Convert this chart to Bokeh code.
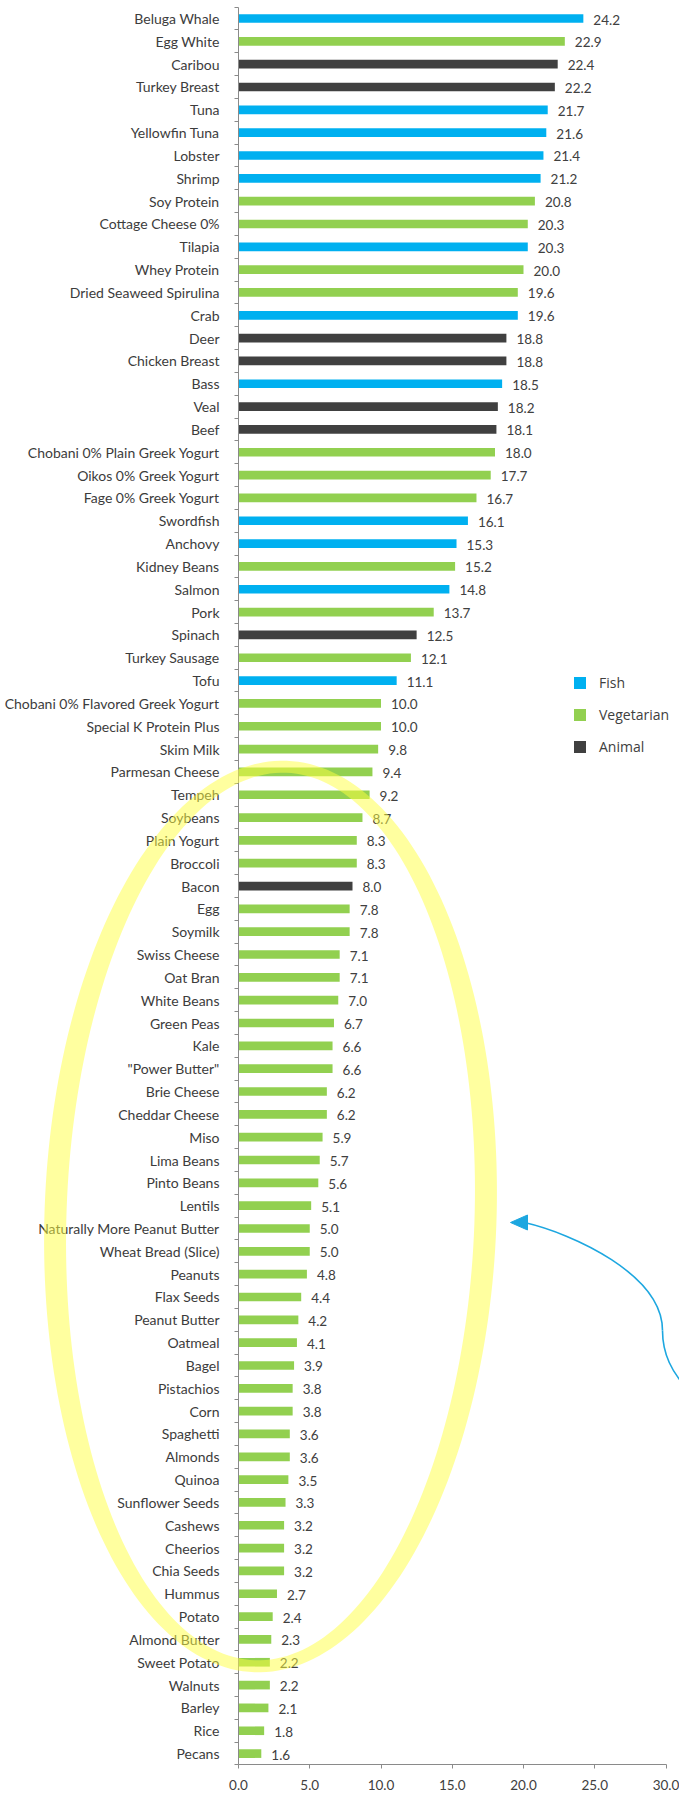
import numpy as np
from bokeh.plotting import figure
from bokeh.models import (Range1d, LinearAxis, FixedTicker, NumeralTickFormatter,
                          ColumnDataSource, Legend, LegendItem)
from bokeh.core.properties import value
from bokeh.embed import file_html
from bokeh.resources import INLINE

foods = ["Beluga Whale", "Egg White", "Caribou", "Turkey Breast", "Tuna", "Yellowfin Tuna",
         "Lobster", "Shrimp", "Soy Protein", "Cottage Cheese 0%", "Tilapia", "Whey Protein",
         "Dried Seaweed Spirulina", "Crab", "Deer", "Chicken Breast", "Bass", "Veal", "Beef",
         "Chobani 0% Plain Greek Yogurt", "Oikos 0% Greek Yogurt", "Fage 0% Greek Yogurt",
         "Swordfish", "Anchovy", "Kidney Beans", "Salmon", "Pork", "Spinach", "Turkey Sausage",
         "Tofu", "Chobani 0% Flavored Greek Yogurt", "Special K Protein Plus", "Skim Milk",
         "Parmesan Cheese", "Tempeh", "Soybeans", "Plain Yogurt", "Broccoli", "Bacon", "Egg",
         "Soymilk", "Swiss Cheese", "Oat Bran", "White Beans", "Green Peas", "Kale",
         "\"Power Butter\"", "Brie Cheese", "Cheddar Cheese", "Miso", "Lima Beans",
         "Pinto Beans", "Lentils", "Naturally More Peanut Butter", "Wheat Bread (Slice)",
         "Peanuts", "Flax Seeds", "Peanut Butter", "Oatmeal", "Bagel", "Pistachios", "Corn",
         "Spaghetti", "Almonds", "Quinoa", "Sunflower Seeds", "Cashews", "Cheerios",
         "Chia Seeds", "Hummus", "Potato", "Almond Butter", "Sweet Potato", "Walnuts",
         "Barley", "Rice", "Pecans"]

protein = [24.2, 22.9, 22.4, 22.2, 21.7, 21.6, 21.4, 21.2, 20.8, 20.3, 20.3, 20.0, 19.6, 19.6,
           18.8, 18.8, 18.5, 18.2, 18.1, 18.0, 17.7, 16.7, 16.1, 15.3, 15.2, 14.8, 13.7, 12.5,
           12.1, 11.1, 10.0, 10.0, 9.8, 9.4, 9.2, 8.7, 8.3, 8.3, 8.0, 7.8, 7.8, 7.1, 7.1, 7.0,
           6.7, 6.6, 6.6, 6.2, 6.2, 5.9, 5.7, 5.6, 5.1, 5.0, 5.0, 4.8, 4.4, 4.2, 4.1, 3.9, 3.8,
           3.8, 3.6, 3.6, 3.5, 3.3, 3.2, 3.2, 3.2, 2.7, 2.4, 2.3, 2.2, 2.2, 2.1, 1.8, 1.6]

F, V, A = "Fish", "Vegetarian", "Animal"
group = [F, V, A, A, F, F, F, F, V, V, F, V, V, F, A, A, F, A, A, V, V, V, F, F, V, F, V, A,
         V, F, V, V, V, V, V, V, V, V, A, V, V, V, V, V, V, V, V, V, V, V, V, V, V, V, V, V,
         V, V, V, V, V, V, V, V, V, V, V, V, V, V, V, V, V, V, V, V, V]

legend_groups = ["Fish", "Vegetarian", "Animal"]
group_colors = ["#00B0F0", "#92D050", "#404040"]

x_ticks = [0, 5, 10, 15, 20, 25, 30]

# ---- layout constants (pixels) ----
W, H = 679, 1794
X0, PXU = 238.0, 14.25      # pixel of x=0, pixels per unit
Y0, PYU = 18.0, 22.83       # pixel of first row centre, pixels per row

n = len(foods)
idx = list(range(n))
cmap = dict(zip(legend_groups, group_colors))
src = ColumnDataSource(dict(
    y=idx, v=protein, name=foods, grp=group,
    color=[cmap[g] for g in group],
    lab=["%.1f" % x for x in protein],
))

p = figure(width=W, height=H, output_backend="svg", toolbar_location=None,
           x_range=Range1d(-X0 / PXU, (W - X0) / PXU),
           y_range=Range1d((H - Y0) / PYU, -Y0 / PYU),
           x_axis_location=None, y_axis_location=None,
           min_border=0, outline_line_color=None)
p.xgrid.visible = False
p.ygrid.visible = False
p.background_fill_color = "white"

bars = p.hbar(y="y", left=0, right="v", height=0.38, fill_color="color",
              line_color=None, source=src)

p.text(x="v", y="y", text="lab", source=src, x_offset=10, y_offset=1,
       text_align="left", text_baseline="middle", text_font=value("Lato"),
       text_font_size="13.5px", text_color="#404040")

LABEL_FONT = "Lato"
# y axis (categories) at x = 0
yax = LinearAxis(fixed_location=0, bounds=(-0.5, n - 0.5),
                 ticker=FixedTicker(ticks=idx, minor_ticks=[i - 0.5 for i in range(n + 1)]),
                 major_label_overrides={i: foods[i] for i in idx})
yax.axis_line_color = "#8a8a8a"
yax.major_tick_out = 0
yax.major_tick_in = 0
yax.minor_tick_out = 4
yax.minor_tick_in = 0
yax.minor_tick_line_color = "#8a8a8a"
yax.major_label_standoff = 15
yax.major_label_text_font = LABEL_FONT
yax.major_label_text_font_size = "14px"
yax.major_label_text_color = "#3c3c3c"
p.add_layout(yax, "left")

xax = LinearAxis(fixed_location=n - 0.5, bounds=(0, 30),
                 ticker=FixedTicker(ticks=x_ticks, minor_ticks=[]),
                 formatter=NumeralTickFormatter(format="0.0"))
xax.axis_line_color = "#8a8a8a"
xax.major_tick_line_color = "#8a8a8a"
xax.major_tick_out = 4
xax.major_tick_in = 0
xax.minor_tick_out = 0
xax.minor_tick_in = 0
xax.major_label_standoff = 11
xax.major_label_text_font = LABEL_FONT
xax.major_label_text_font_size = "13.5px"
xax.major_label_text_color = "#404040"
p.add_layout(xax, "below")

# legend
items = [LegendItem(label=g, renderers=[bars], index=group.index(g)) for g in legend_groups]
leg = Legend(items=items, location=(572, H - 684.5 - 71), orientation="vertical",
             glyph_width=15, glyph_height=15, label_height=15, spacing=13,
             label_standoff=12, padding=0, margin=0, border_line_color=None,
             background_fill_alpha=0, label_text_font="Open Sans",
             label_text_font_size="14px", label_text_color="#404040")
p.add_layout(leg, "center")


def dx(sx):
    return (sx - X0) / PXU


def dy(sy):
    return (sy - Y0) / PYU


# blue curved arrow (annotation)
ac = "#1DA7E0"
p.bezier(x0=[dx(524), dx(662)], y0=[dy(1222), dy(1330)],
         x1=[dx(662), dx(692)], y1=[dy(1330), dy(1394)],
         cx0=[dx(572), dx(662)], cy0=[dy(1233), dy(1352)],
         cx1=[dx(662), dx(670)], cy1=[dy(1274), dy(1372)],
         line_color=ac, line_width=1.6)
p.patch(x=[dx(510), dx(527), dx(527)], y=[dy(1222), dy(1214.5), dy(1229.5)],
        fill_color=ac, line_color=ac)

# yellow highlight ellipse (annotation), drawn as ring
cx, cy, Aax, Bax, phi = 270.0, 1216.0, 450.0, 215.0, 0.035
t = np.linspace(0, 2 * np.pi, 241)


def ring(a, b):
    u, v = b * np.cos(t), a * np.sin(t)
    sx = cx + u * np.cos(phi) - v * np.sin(phi)
    sy = cy + u * np.sin(phi) + v * np.cos(phi)
    return list(dx(sx)), list(dy(sy))


ox, oy = ring(Aax + 6, Bax + 11)
ix, iy = ring(Aax - 6, Bax - 11)
el = p.multi_polygons(xs=[[[ox, ix[::-1]]]], ys=[[[oy, iy[::-1]]]],
                      fill_color="#FFFF40", fill_alpha=0.5, line_color=None)
el.level = "overlay"

open("out.html", "w").write(file_html(p, INLINE))
